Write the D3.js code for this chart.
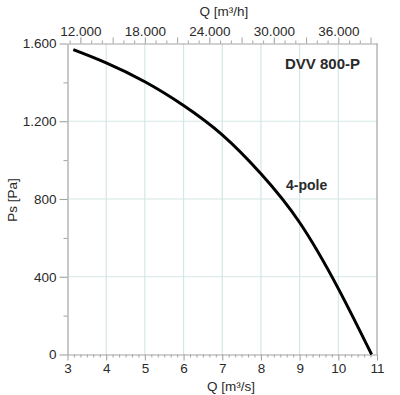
<!DOCTYPE html>
<html><head><meta charset="utf-8">
<script src="https://cdn.jsdelivr.net/npm/d3@7"></script>
<style>
html,body{margin:0;padding:0;background:#fff;}
svg text{font-family:"Liberation Sans",Arial,Helvetica,sans-serif;fill:#2a2a2a;}
</style></head>
<body>
<svg id="chart" width="400" height="395"></svg>
<script>
// Data
const flowM3s = [3.15, 4, 5, 6, 7, 8, 9, 10, 10.86];
const pressurePa = [1568, 1500, 1403, 1281, 1130, 930, 679, 339, 0];
const bottomTicks = [3, 4, 5, 6, 7, 8, 9, 10, 11];
const topTicks = [12000, 18000, 24000, 30000, 36000];
const leftTicks = [0, 400, 800, 1200, 1600];
const gridX = [4, 5, 6, 7, 8, 9, 10];
const gridY = [400, 800, 1200];
const titleTop = "Q [m³/h]";
const titleBottom = "Q [m³/s]";
const titleLeft = "Ps [Pa]";
const modelLabel = "DVV 800-P";
const curveLabel = "4-pole";

const svg = d3.select("#chart");
const x = d3.scaleLinear().domain([3, 11]).range([67.5, 377]);
const xTop = d3.scaleLinear().domain([3 * 3600, 11 * 3600]).range([67.5, 377]);
const y = d3.scaleLinear().domain([0, 1600]).range([354.5, 43.5]);
const fmtDot = d => d3.format(",")(d).replace(/,/g, ".");
const axisCol = "#a3a3a3";
const gridCol = "#d4e7e6";
const fs = 13.5;

// grid
svg.append("g").selectAll("line").data(gridX).join("line")
  .attr("x1", d => x(d)).attr("x2", d => x(d))
  .attr("y1", y(1600)).attr("y2", y(0))
  .attr("stroke", gridCol).attr("stroke-width", 1.2);
svg.append("g").selectAll("line").data(gridY).join("line")
  .attr("x1", x(3)).attr("x2", x(11))
  .attr("y1", d => y(d)).attr("y2", d => y(d))
  .attr("stroke", gridCol).attr("stroke-width", 1.2);

// right border
svg.append("line").attr("x1", x(11)).attr("x2", x(11)).attr("y1", y(1600)).attr("y2", y(0))
  .attr("stroke", axisCol).attr("stroke-width", 1.2);

function styleAxis(g) {
  g.select(".domain").attr("stroke", axisCol).attr("stroke-width", 1.2);
  g.selectAll(".tick line").attr("stroke", axisCol).attr("stroke-width", 1.1);
  g.selectAll("text").attr("font-size", fs).attr("fill", "#2a2a2a")
    .attr("font-family", '"Liberation Sans",Arial,Helvetica,sans-serif');
}

// bottom axis minor ticks (1/6 step)
const minorBottom = d3.range(3 * 6, 11 * 6 + 1).map(v => v / 6).filter(v => Math.abs(v - Math.round(v)) > 1e-6);
svg.append("g").attr("transform", `translate(0,${y(0)})`)
  .call(d3.axisBottom(x).tickValues(minorBottom).tickSize(3).tickFormat(""))
  .call(g => { g.select(".domain").remove(); g.selectAll(".tick line").attr("stroke", axisCol); });
svg.append("g").attr("transform", `translate(0,${y(0)})`)
  .call(d3.axisBottom(x).tickValues(bottomTicks).tickSize(6).tickPadding(3).tickSizeOuter(0).tickFormat(d3.format("d")))
  .call(styleAxis);

// top axis minor ticks every 1000, medium every 3000
const minorTop = d3.range(11000, 39001, 1000).filter(v => v % 6000 !== 0);
svg.append("g").attr("transform", `translate(0,${y(1600)})`)
  .call(d3.axisTop(xTop).tickValues(minorTop).tickSize(3).tickFormat(""))
  .call(g => {
    g.select(".domain").remove();
    g.selectAll(".tick line").attr("stroke", axisCol)
      .attr("y2", d => d % 3000 === 0 ? -6 : -3);
  });
svg.append("g").attr("transform", `translate(0,${y(1600)})`)
  .call(d3.axisTop(xTop).tickValues(topTicks).tickSize(6).tickPadding(2).tickSizeOuter(0).tickFormat(fmtDot))
  .call(styleAxis);

// left axis
const minorLeft = [200, 600, 1000, 1400];
svg.append("g").attr("transform", `translate(${x(3)},0)`)
  .call(d3.axisLeft(y).tickValues(minorLeft).tickSize(4).tickFormat(""))
  .call(g => { g.select(".domain").remove(); g.selectAll(".tick line").attr("stroke", axisCol); });
svg.append("g").attr("transform", `translate(${x(3)},0)`)
  .call(d3.axisLeft(y).tickValues(leftTicks).tickSize(8).tickPadding(3).tickSizeOuter(0).tickFormat(fmtDot))
  .call(styleAxis);

// curve
const pts = flowM3s.map((q, i) => [q, pressurePa[i]]);
svg.append("path").datum(pts)
  .attr("d", d3.line().x(d => x(d[0])).y(d => y(d[1])).curve(d3.curveNatural))
  .attr("fill", "none").attr("stroke", "#000").attr("stroke-width", 3).attr("stroke-linecap", "butt");

// titles
svg.append("text").attr("x", 224).attr("y", 16).attr("text-anchor", "middle").attr("font-size", fs).text(titleTop);
svg.append("text").attr("x", 231).attr("y", 391).attr("text-anchor", "middle").attr("font-size", fs).text(titleBottom);
svg.append("text").attr("transform", "translate(17,200) rotate(-90)").attr("text-anchor", "middle").attr("font-size", fs).text(titleLeft);
svg.append("text").attr("x", 285).attr("y", 69).attr("font-size", 15).attr("font-weight", "bold").attr("fill", "#222").text(modelLabel);
svg.append("text").attr("x", 286).attr("y", 190).attr("font-size", 14).attr("font-weight", "bold").attr("fill", "#222").text(curveLabel);
</script>
</body></html>
